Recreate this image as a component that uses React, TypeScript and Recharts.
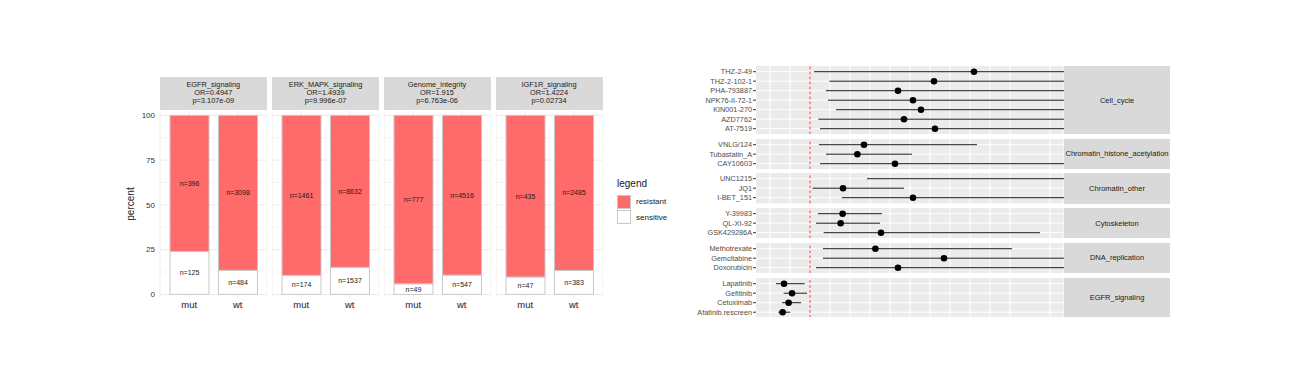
import React from "react";
import {
  BarChart,
  Bar,
  XAxis,
  YAxis,
  CartesianGrid,
  LabelList,
  ScatterChart,
  Scatter,
  ErrorBar,
  ReferenceLine,
} from "recharts";

// ---------- left: stacked percent bars per pathway ----------
const facets = ["EGFR_signaling", "ERK_MAPK_signaling", "Genome_integrity", "IGF1R_signaling"];
const oddsRatios = ["0.4947", "1.4939", "1.915", "1.4224"];
const pValues = ["3.107e-09", "9.996e-07", "6.763e-06", "0.02734"];
const groups = ["mut", "wt"];
const resistantN = [
  [396, 3098],
  [1461, 8632],
  [777, 4516],
  [435, 2485],
];
const sensitiveN = [
  [125, 484],
  [174, 1537],
  [49, 547],
  [47, 383],
];
const percentTicks = [0, 25, 50, 75, 100];
const percentMinor = [12.5, 37.5, 62.5, 87.5];

// ---------- right: forest plot per pathway ----------
const pathways = [
  "Cell_cycle",
  "Chromatin_histone_acetylation",
  "Chromatin_other",
  "Cytoskeleton",
  "DNA_replication",
  "EGFR_signaling",
];
const drugs = [
  ["THZ-2-49", "THZ-2-102-1", "PHA-793887", "NPK76-II-72-1", "KIN001-270", "AZD7762", "AT-7519"],
  ["VNLG/124", "Tubastatin_A", "CAY10603"],
  ["UNC1215", "JQ1", "I-BET_151"],
  ["Y-39983", "QL-XI-92", "GSK429286A"],
  ["Methotrexate", "Gemcitabine", "Doxorubicin"],
  ["Lapatinib", "Gefitinib", "Cetuximab", "Afatinib.rescreen"],
];
const estimates = [
  [8.2, 6.2, 4.4, 5.15, 5.55, 4.7, 6.25],
  [2.7, 2.37, 4.25],
  [14, 1.65, 5.15],
  [1.63, 1.53, 3.55],
  [3.27, 6.7, 4.4],
  [-1.3, -0.9, -1.07, -1.37],
];
const lowers = [
  [0.2, 0.97, 0.8, 0.9, 1.3, 0.42, 0.5],
  [0.45, 0.8, 0.5],
  [2.85, 0.13, 1.6],
  [0.4, 0.3, 0.68],
  [0.65, 0.65, 0.3],
  [-1.7, -1.32, -1.4, -1.58],
];
const uppers = [
  [14, 14.5, 13.5, 14, 13.2, 13.8, 15],
  [8.35, 5.1, 13.5],
  [20, 4.7, 14],
  [3.6, 3.5, 11.5],
  [10.1, 14, 13.5],
  [-0.27, -0.15, -0.45, -0.99],
];
const xBreaks = [-2, -1, 0, 1, 2, 3, 4, 5, 6, 7, 8, 9, 10, 11, 12];

const FONT = "'Liberation Sans', Arial, Helvetica, sans-serif";
const RESIST = "#FF6A6A";

// layout constants
const BAR_PANEL_W = 107;
const BAR_PANEL_LEFTS = [159.8, 272, 383.5, 495.5];
const BAR_TOP = 110.2;
const BAR_H = 188;
const Y_AXIS_W = 45;

const FP_LEFT = 756;
const FP_W = 307.5;
const FP_LABEL_W = 80;
const ROW = 9.5;
const GAP = 4.3;
const FP_TOP = 66;

function BarFacet({ index }: { index: number }) {
  const first = index === 0;
  const data = groups.map((g, j) => {
    const r = resistantN[index][j];
    const s = sensitiveN[index][j];
    return {
      group: g,
      sensitive: (100 * s) / (r + s),
      resistant: (100 * r) / (r + s),
      sLabel: `n=${s}`,
      rLabel: `n=${r}`,
    };
  });
  const w = BAR_PANEL_W + (first ? Y_AXIS_W : 0);
  return (
    <div style={{ position: "absolute", left: BAR_PANEL_LEFTS[index] - (first ? Y_AXIS_W : 0), top: BAR_TOP }}>
      <BarChart width={w} height={BAR_H + 18} data={data} margin={{ top: 0, right: 0, bottom: 0, left: 0 }}>
        <CartesianGrid stroke="#ebebeb" strokeWidth={0.5} vertical={false} horizontalValues={percentMinor} />
        <CartesianGrid stroke="#ebebeb" strokeWidth={1} horizontalValues={percentTicks} />
        <XAxis
          dataKey="group"
          type="category"
          padding={{ left: 5, right: 5 }}
          tickLine={false}
          axisLine={false}
          tickSize={2}
          tickMargin={1.5}
          height={18}
          tick={{ fontSize: 9.5, fill: "#222", fontFamily: FONT }}
        />
        <YAxis
          type="number"
          domain={[-2, 103]}
          ticks={percentTicks}
          allowDataOverflow
          hide={!first}
          width={Y_AXIS_W}
          tickLine={false}
          axisLine={false}
          tickSize={3}
          tickMargin={2}
          tick={{ fontSize: 8, fill: "#333", fontFamily: FONT }}
        />
        <Bar dataKey="sensitive" stackId="a" fill="#fff" stroke="#c8c8c8" strokeWidth={1} barSize={39} isAnimationActive={false}>
          <LabelList dataKey="sLabel" position="center" fontSize={7} fill="#1a1a1a" fontFamily={FONT} />
        </Bar>
        <Bar dataKey="resistant" stackId="a" fill={RESIST} stroke="#c8c8c8" strokeWidth={1} barSize={39} isAnimationActive={false}>
          <LabelList dataKey="rLabel" position="center" fontSize={7} fill="#1a1a1a" fontFamily={FONT} />
        </Bar>
      </BarChart>
    </div>
  );
}

function Strip({ index }: { index: number }) {
  return (
    <div
      style={{
        position: "absolute",
        left: BAR_PANEL_LEFTS[index],
        top: 77,
        width: BAR_PANEL_W,
        height: 32.5,
        background: "#d9d9d9",
        display: "flex",
        flexDirection: "column",
        justifyContent: "center",
        alignItems: "center",
        fontSize: 7.4,
        lineHeight: "8.3px",
        color: "#1a1a1a",
        fontFamily: FONT,
      }}
    >
      <div>{facets[index]}</div>
      <div>OR={oddsRatios[index]}</div>
      <div>p={pValues[index]}</div>
    </div>
  );
}

function ForestFacet({ index, top }: { index: number; top: number }) {
  const names = drugs[index];
  const n = names.length;
  const h = (n + 0.2) * ROW;
  const rows = names.map((_, i) => i);
  const data = names.map((name, i) => ({
    row: i,
    est: estimates[index][i],
    err: [estimates[index][i] - lowers[index][i], uppers[index][i] - estimates[index][i]],
  }));
  return (
    <>
      <div style={{ position: "absolute", left: FP_LEFT - FP_LABEL_W, top }}>
        <ScatterChart width={FP_LABEL_W + FP_W} height={h} margin={{ top: 0, right: 0, bottom: 0, left: 0 }}>
          <CartesianGrid fill="#ebebeb" stroke="#ffffff" strokeWidth={1} verticalValues={xBreaks} horizontalValues={rows} />
          <XAxis type="number" dataKey="est" domain={[-2.7, 12.675]} allowDataOverflow hide />
          <YAxis
            type="number"
            dataKey="row"
            domain={[-0.6, n - 0.4]}
            reversed
            ticks={rows}
            interval={0}
            allowDataOverflow
            width={FP_LABEL_W}
            axisLine={false}
            tickLine={{ stroke: "#333" }}
            tickSize={3}
            tickMargin={1}
            tickFormatter={(v: number) => names[v] ?? ""}
            tick={{ fontSize: 7.3, fill: "#4d4d4d", fontFamily: FONT }}
          />
          <ReferenceLine x={0} stroke="#f03c3c" strokeWidth={1} strokeDasharray="3 2" />
          <Scatter
            data={data}
            isAnimationActive={false}
            shape={(p: any) => <circle cx={p.cx} cy={p.cy} r={3.3} fill="#000" />}
          >
            <ErrorBar dataKey="err" direction="x" width={0} stroke="#1a1a1a" strokeWidth={1} />
          </Scatter>
        </ScatterChart>
      </div>
      <div
        style={{
          position: "absolute",
          left: FP_LEFT + FP_W + 0.5,
          top,
          width: 106,
          height: h,
          background: "#d9d9d9",
          display: "flex",
          justifyContent: "center",
          alignItems: "center",
          fontSize: 7.5,
          whiteSpace: "nowrap",
          color: "#1a1a1a",
          fontFamily: FONT,
        }}
      >
        {pathways[index]}
      </div>
    </>
  );
}

export default function App() {
  const tops: number[] = [];
  let t = FP_TOP;
  drugs.forEach((d) => {
    tops.push(t);
    t += (d.length + 0.2) * ROW + GAP;
  });
  return (
    <div style={{ position: "absolute", left: 0, top: 0, width: 1295, height: 388, background: "#fff", overflow: "hidden" }}>
      {facets.map((_, i) => (
        <Strip key={`s${i}`} index={i} />
      ))}
      {facets.map((_, i) => (
        <BarFacet key={`b${i}`} index={i} />
      ))}
      <div
        style={{
          position: "absolute",
          left: 131 - 30,
          top: 204 - 7,
          width: 60,
          height: 14,
          textAlign: "center",
          transform: "rotate(-90deg)",
          fontSize: 10,
          lineHeight: "14px",
          color: "#1a1a1a",
          fontFamily: FONT,
        }}
      >
        percent
      </div>
      {/* legend */}
      <div style={{ position: "absolute", left: 617, top: 177, fontFamily: FONT, color: "#1a1a1a" }}>
        <div style={{ fontSize: 10, lineHeight: "14px", height: 17 }}>legend</div>
        {[
          { label: "resistant", fill: RESIST },
          { label: "sensitive", fill: "#fff" },
        ].map((it) => (
          <div key={it.label} style={{ display: "flex", alignItems: "center", height: 15.5 }}>
            <div style={{ width: 14, height: 14, background: it.fill, border: "1px solid #c8c8c8", boxSizing: "border-box" }} />
            <div style={{ fontSize: 8, marginLeft: 5 }}>{it.label}</div>
          </div>
        ))}
      </div>
      {drugs.map((_, i) => (
        <ForestFacet key={`f${i}`} index={i} top={tops[i]} />
      ))}
    </div>
  );
}
